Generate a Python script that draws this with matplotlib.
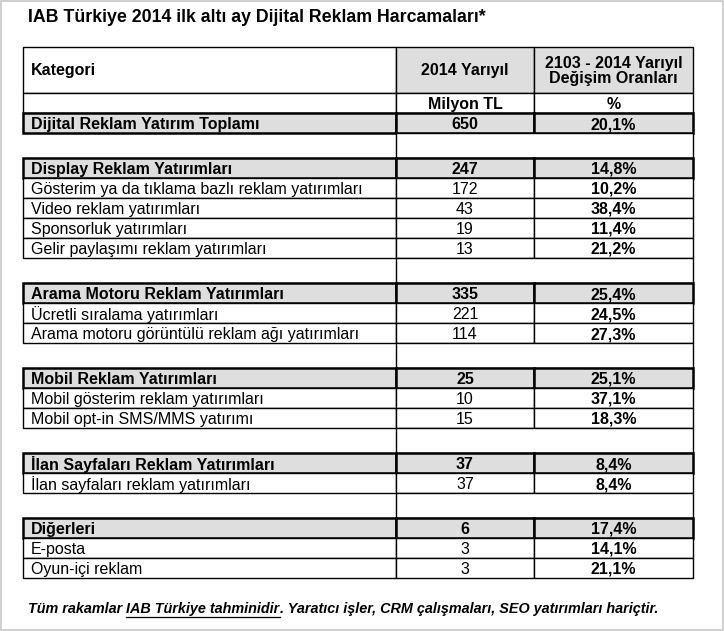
import matplotlib
matplotlib.use("Agg")
import matplotlib.pyplot as plt
from matplotlib.patches import Rectangle

plt.rcParams["font.family"] = "Liberation Sans"

title = "IAB Türkiye 2014 ilk altı ay Dijital Reklam Harcamaları*"
footnote_parts = ["Tüm rakamlar ", "IAB Türkiye tahminidir", ". Yaratıcı işler, CRM çalışmaları, SEO yatırımları hariçtir."]

# (label, value, change, is_group_header); None marks a blank spacer row
rows = [
    ("Dijital Reklam Yatırım Toplamı", "650", "20,1%", True),
    None,
    ("Display Reklam Yatırımları", "247", "14,8%", True),
    ("Gösterim ya da tıklama bazlı reklam yatırımları", "172", "10,2%", False),
    ("Video reklam yatırımları", "43", "38,4%", False),
    ("Sponsorluk yatırımları", "19", "11,4%", False),
    ("Gelir paylaşımı reklam yatırımları", "13", "21,2%", False),
    None,
    ("Arama Motoru Reklam Yatırımları", "335", "25,4%", True),
    ("Ücretli sıralama yatırımları", "221", "24,5%", False),
    ("Arama motoru görüntülü reklam ağı yatırımları", "114", "27,3%", False),
    None,
    ("Mobil Reklam Yatırımları", "25", "25,1%", True),
    ("Mobil gösterim reklam yatırımları", "10", "37,1%", False),
    ("Mobil opt-in SMS/MMS yatırımı", "15", "18,3%", False),
    None,
    ("İlan Sayfaları Reklam Yatırımları", "37", "8,4%", True),
    ("İlan sayfaları reklam yatırımları", "37", "8,4%", False),
    None,
    ("Diğerleri", "6", "17,4%", True),
    ("E-posta", "3", "14,1%", False),
    ("Oyun-içi reklam", "3", "21,1%", False),
]

W, H = 724, 631
fig = plt.figure(figsize=(W / 100, H / 100), dpi=100)
ax = fig.add_axes([0, 0, 1, 1])
ax.set_xlim(0, W)
ax.set_ylim(H, 0)
ax.axis("off")

ax.add_patch(Rectangle((0.5, 0.5), W - 1.5, H - 1.5, fill=False, ec="#c8c8c8", lw=1.2))

x0, x1, x2, x3 = 23, 396, 534, 693
gray = "#dedede"
fs = 11.5

ax.text(28, 18, title, fontsize=12.8, fontweight="bold", va="center", ha="left")

def cell(xa, xb, ya, yb, fc="white", lw=1.0):
    ax.add_patch(Rectangle((xa, ya), xb - xa, yb - ya, fc=fc, ec="black", lw=lw))

cell(x0, x1, 47, 93)
cell(x1, x2, 47, 93, gray)
cell(x2, x3, 47, 93, gray)
ax.text(x0 + 8, 71, "Kategori", fontsize=fs, fontweight="bold", va="center")
ax.text((x1 + x2) / 2, 71, "2014 Yarıyıl", fontsize=fs, fontweight="bold", va="center", ha="center")
ax.text((x2 + x3) / 2, 71, "2103 - 2014 Yarıyıl\nDeğişim Oranları", fontsize=fs, fontweight="bold",
        va="center", ha="center", linespacing=1.0)
cell(x0, x1, 93, 113)
cell(x1, x2, 93, 113)
cell(x2, x3, 93, 113)
ax.text((x1 + x2) / 2, 104.5, "Milyon TL", fontsize=fs, fontweight="bold", va="center", ha="center")
ax.text((x2 + x3) / 2, 104.5, "%", fontsize=fs, fontweight="bold", va="center", ha="center")

y = 113
rh, bh = 20, 25
for r in rows:
    if r is None:
        cell(x1, x3, y, y + bh)
        y += bh
        continue
    lab, val, chg, hdr = r
    fc = gray if hdr else "white"
    lw = 1.8 if hdr else 1.0
    cell(x0, x1, y, y + rh, fc, lw)
    cell(x1, x2, y, y + rh, fc, lw)
    cell(x2, x3, y, y + rh, fc, lw)
    yc = y + rh / 2 + 1.5
    ax.text(x0 + 8, yc, lab, fontsize=fs, fontweight="bold" if hdr else "normal", va="center")
    ax.text((x1 + x2) / 2, yc, val, fontsize=fs, fontweight="bold" if hdr else "normal", va="center", ha="center")
    ax.text((x2 + x3) / 2, yc, chg, fontsize=fs, fontweight="bold", va="center", ha="center")
    y += rh

fx = 28
fy = 609
r = fig.canvas.get_renderer()
for i, part in enumerate(footnote_parts):
    t = ax.text(fx, fy, part, fontsize=10.4, fontweight="bold", style="italic", va="center", ha="left")
    wpx = t.get_window_extent(renderer=r).width
    if i == 1:
        ax.plot([fx, fx + wpx], [fy + 7.5, fy + 7.5], color="black", lw=0.9)
    fx += wpx

fig.savefig("out.png", dpi=100)
